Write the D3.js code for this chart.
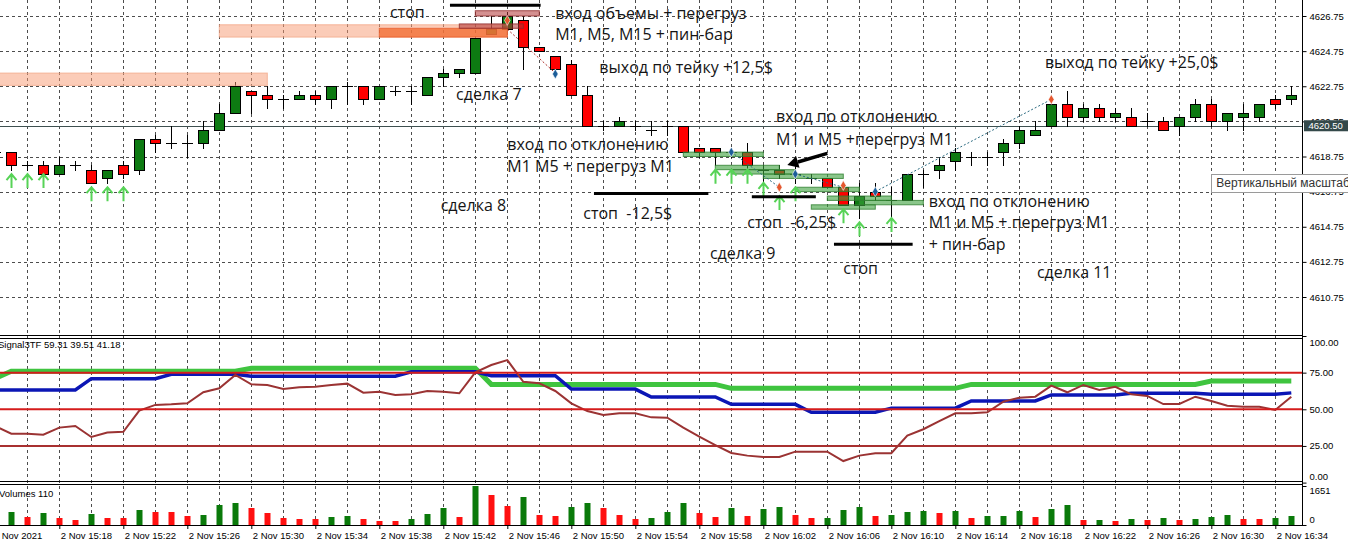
<!DOCTYPE html>
<html>
<head>
<meta charset="utf-8">
<script src="https://cdn.jsdelivr.net/npm/d3@7"></script>
<style>
body { margin: 0; background: #fff; }
svg { display: block; font-family: "Liberation Sans", Arial, sans-serif; }
.note { font-family: "Open Sans", sans-serif; font-size: 16px; fill: #151515; white-space: pre; }
</style>
</head>
<body>
<script>
// M1 bars, 2 Nov 2021
const times = [
  "15:14","15:15","15:16","15:17","15:18","15:19","15:20","15:21","15:22","15:23",
  "15:24","15:25","15:26","15:27","15:28","15:29","15:30","15:31","15:32","15:33",
  "15:34","15:35","15:36","15:37","15:38","15:39","15:40","15:41","15:42","15:43",
  "15:44","15:45","15:46","15:47","15:48","15:49","15:50","15:51","15:52","15:53",
  "15:54","15:55","15:56","15:57","15:58","15:59","16:00","16:01","16:02","16:03",
  "16:04","16:05","16:06","16:07","16:08","16:09","16:10","16:11","16:12","16:13",
  "16:14","16:15","16:16","16:17","16:18","16:19","16:20","16:21","16:22","16:23",
  "16:24","16:25","16:26","16:27","16:28","16:29","16:30","16:31","16:32","16:33",
  "16:34","16:35"]

const opens = [
  4619.0,4619.0,4618.25,4618.25,4617.75,4618.25,4618.0,4617.5,4618.25,4618.0,
  4619.75,4619.5,4619.5,4619.5,4620.25,4621.25,4622.5,4622.25,4622.0,4622.0,
  4622.25,4622.0,4622.75,4622.75,4622.0,4622.5,4622.5,4622.25,4623.25,4623.5,
  4623.5,4625.75,4626.0,4626.5,4625.0,4624.5,4624.0,4622.25,4620.5,4620.5,
  4620.5,4620.25,4620.5,4620.5,4619.25,4619.25,4619.0,4619.0,4618.0,4618.0,
  4617.75,4617.5,4617.5,4617.0,4616.0,4616.75,4616.25,4616.25,4617.75,4618.0,
  4618.5,4618.75,4618.75,4619.0,4619.5,4620.0,4620.5,4621.75,4621.0,4621.5,
  4621.0,4621.0,4620.75,4620.75,4620.5,4621.0,4621.75,4620.75,4621.0,4621.0,
  4622.0,4622.0]
const highs = [
  4619.25,4619.0,4618.5,4618.5,4618.75,4618.5,4618.25,4618.0,4618.5,4619.75,
  4620.0,4620.5,4620.0,4620.75,4621.75,4623.0,4622.5,4622.75,4622.25,4622.5,
  4622.5,4622.75,4623.0,4622.75,4622.75,4622.75,4622.75,4623.25,4623.75,4623.75,
  4625.5,4626.75,4627.0,4626.75,4625.0,4624.5,4624.25,4622.75,4620.75,4621.0,
  4620.75,4620.75,4620.75,4620.5,4619.25,4619.25,4619.25,4619.5,4618.25,4618.25,
  4618.25,4617.75,4617.5,4617.25,4617.25,4617.25,4617.0,4617.75,4618.0,4618.75,
  4619.25,4619.0,4619.0,4619.75,4620.5,4620.75,4621.75,4622.5,4621.75,4621.75,
  4621.5,4621.5,4621.25,4621.0,4621.0,4622.0,4622.0,4621.25,4621.75,4621.75,
  4622.25,4622.75]
const lows = [
  4618.75,4618.0,4618.0,4617.75,4617.75,4618.0,4617.25,4617.25,4617.5,4617.75,
  4619.0,4619.25,4618.75,4619.25,4620.25,4621.25,4621.25,4621.5,4621.5,4622.0,
  4621.75,4621.5,4621.75,4621.75,4622.0,4622.25,4621.75,4622.25,4622.75,4623.25,
  4623.5,4625.75,4625.75,4623.75,4624.75,4623.75,4622.25,4620.5,4620.25,4620.5,
  4620.25,4620.0,4620.0,4619.0,4618.75,4618.25,4618.75,4617.5,4617.25,4617.5,
  4617.25,4617.25,4617.0,4616.0,4615.25,4616.25,4615.25,4616.25,4617.0,4617.5,
  4618.0,4618.25,4618.25,4618.25,4619.25,4620.0,4620.5,4620.5,4620.75,4620.75,
  4620.75,4620.5,4620.5,4620.25,4620.0,4620.75,4620.5,4620.25,4620.25,4620.75,
  4621.5,4621.75]
const closes = [
  4619.0,4618.25,4618.25,4617.75,4618.25,4618.25,4617.25,4618.0,4617.75,4619.75,
  4619.5,4619.5,4619.5,4620.25,4621.25,4622.75,4622.25,4622.0,4622.0,4622.25,
  4622.0,4622.75,4622.75,4622.0,4622.75,4622.5,4622.5,4623.25,4623.5,4623.75,
  4625.5,4626.0,4626.75,4625.0,4624.75,4623.75,4622.25,4620.5,4620.5,4620.75,
  4620.5,4620.25,4620.5,4619.0,4619.0,4619.0,4619.0,4618.25,4618.0,4617.75,
  4617.75,4617.5,4617.0,4616.0,4616.5,4616.5,4616.25,4617.75,4617.75,4618.25,
  4619.0,4618.75,4618.75,4619.5,4620.25,4620.25,4621.75,4621.0,4621.5,4621.0,
  4621.25,4620.5,4620.75,4620.25,4621.0,4621.75,4620.75,4621.25,4621.25,4621.75,
  4621.75,4622.25]
const volumes = [
  400,563,339,508,296,212,466,296,296,635,
  550,550,381,423,847,931,720,508,296,254,
  254,339,381,254,169,169,254,466,720,339,
  1651,1257,804,1185,423,381,762,931,720,423,
  254,296,550,931,508,339,720,381,677,762,
  423,280,296,635,762,400,440,550,593,508,
  593,296,370,390,593,339,677,847,200,215,
  169,254,212,296,212,254,339,423,254,240,
  296,381]

// Signal3TF: M15 (green), M5 (blue), M1 (brown)
const sigM15 = [
  71,
  76,76,76,76,76,76,76,76,76,76,76,76,76,76,76,
  78,78,78,78,78,78,78,78,78,78,78,78,78,78,78,
  67,67,67,67,67,67,67,67,67,67,67,67,67,67,67,
  64.3,64.3,64.3,64.3,64.3,64.3,64.3,64.3,64.3,64.3,64.3,64.3,64.3,64.3,64.3,
  67,67,67,67,67,67,67,67,67,67,67,67,67,67,67,
  69.3,69.3,69.3,69.3,69.3,69.3]
const sigM5 = [
  63.2,
  63.2,63.2,63.2,63.2,63.2, 70.9,70.9,70.9,70.9,70.9, 73.9,73.9,73.9,73.9,73.9,
  72.6,72.6,72.6,72.6,72.6, 72.6,72.6,72.6,72.6,72.6, 75.6,75.6,75.6,75.6,75.6,
  72.9,72.9,72.9,72.9,72.9, 63.8,63.8,63.8,63.8,63.8, 58.4,58.4,58.4,58.4,58.4,
  53.4,53.4,53.4,53.4,53.4, 48.0,48.0,48.0,48.0,48.0, 50.8,50.8,50.8,50.8,50.8,
  55.7,55.7,55.7,55.7,55.7, 59.8,59.8,59.8,59.8,59.8, 60.9,60.9,60.9,60.9,60.9,
  60.2,60.2,60.2,60.2,60.2, 61.2]
const sigM1 = [
  38.5,33.4,33.4,32.7,37.5,38.6,31.1,34.1,34.7,49.1,
  53.0,53.4,54.1,61.6,64.3,73.4,67.0,66.6,63.8,65.0,
  65.4,66.6,67.5,61.3,62.0,59.8,60.2,62.5,62.0,60.9,
  75.2,80.2,83.6,68.8,67.7,62.5,54.1,48.8,46.1,47.3,
  47.3,44.5,44.3,37.5,31.3,25.6,20.2,18.4,17.5,17.5,
  21.1,21.1,21.1,14.7,18.4,20.0,20.0,32.0,36.4,42.0,
  47.3,47.3,48.0,55.2,57.9,58.6,66.1,61.6,66.6,63.2,
  65.4,60.2,59.1,53.6,53.6,58.6,55.7,52.5,51.8,51.8,
  49.5,58.6]
const sigLevels = [75, 50, 25]

const priceTicks = [4610.75, 4612.75, 4614.75, 4616.75, 4618.75, 4620.75, 4622.75, 4624.75, 4626.75]
const indTicks = [100, 75, 50, 25, 0]
const volTicks = [1651, 0]
const lastPrice = 4620.50

// chart markup: zones [from, to, top, bottom, kind]
const zones = [
  ["15:14", "15:31", 4623.5, 4622.8, "pale"],
  ["15:28", "15:46", 4626.25, 4625.55, "pale"],
  ["15:38", "15:46", 4626.05, 4625.55, "orange"],
  ["15:43", "15:47", 4626.3, 4626.05, "dark"],
  ["15:44", "15:48", 4627.05, 4626.75, "dark"],
  ["15:57", "16:02", 4619.0, 4618.75, "green"],
  ["15:59", "16:03", 4618.25, 4618.0, "green"],
  ["16:00", "16:04", 4618.0, 4617.75, "green"],
  ["16:02", "16:07", 4617.75, 4617.5, "green"],
  ["16:04", "16:08", 4617.0, 4616.75, "green"],
  ["16:06", "16:10", 4616.5, 4616.25, "green"],
  ["16:05", "16:09", 4616.0, 4615.75, "green"],
  ["16:08", "16:12", 4616.25, 4616.0, "green"]
]
const upArrows = [
  ["15:15", 4617.75], ["15:16", 4617.75], ["15:17", 4617.75],
  ["15:20", 4617.0], ["15:21", 4617.0], ["15:22", 4617.0],
  ["15:59", 4618.0], ["16:00", 4618.0], ["16:01", 4618.0], ["16:02", 4617.25],
  ["16:03", 4616.5], ["16:04", 4617.0], ["16:07", 4615.75], ["16:08", 4615.0], ["16:10", 4615.25]
]
const deals = [
  ["15:46", 4626.5, "sell"], ["15:49", 4623.45, "buy"], ["16:00", 4619.0, "buy"],
  ["16:03", 4617.0, "sell"], ["16:04", 4617.75, "buy"], ["16:07", 4617.1, "sell"],
  ["16:09", 4616.75, "buy"], ["16:20", 4622.0, "sell"]
]
const trades = [
  ["15:46", 4626.0, "15:49", 4623.5, "sell"],
  ["16:00", 4619.0, "16:03", 4617.0, "buy"],
  ["16:04", 4617.75, "16:07", 4617.0, "buy"],
  ["16:09", 4616.75, "16:20", 4622.0, "buy"]
]
const stops = [
  ["15:42:25", "15:48:05", 4627.36],
  ["15:51:25", "15:58:34", 4616.65],
  ["16:01:17", "16:05:17", 4616.46],
  ["16:06:25", "16:11:20", 4613.75]
]
const pointer = ["16:06", 4618.93, "16:03:30", 4618.26]
const notes = [
  ["стоп", "15:38:40", 4626.62],
  ["вход объемы + перегруз", "15:49", 4626.58],
  ["M1, M5, M15 + пин-бар", "15:49", 4625.38],
  ["выход по тейку +12,5$", "15:51:45", 4623.49],
  ["сделка 7", "15:42:48", 4621.97],
  ["вход по отклонению", "15:46", 4619.12],
  ["M1 M5 + перегруз M1", "15:46", 4617.88],
  ["сделка 8", "15:41:50", 4615.65],
  ["стоп  -12,5$", "15:50:45", 4615.17],
  ["вход по отклонению", "16:02:48", 4620.73],
  ["M1 и M5 +перегруз M1", "16:02:48", 4619.40],
  ["стоп  -6,25$", "16:01", 4614.66],
  ["сделка 9", "15:58:40", 4612.90],
  ["стоп", "16:07", 4612.06],
  ["вход по отклонению", "16:12:20", 4615.87],
  ["M1 и M5 + перегруз M1", "16:12:20", 4614.68],
  ["+ пин-бар", "16:12:20", 4613.42],
  ["сделка 11", "16:19:06", 4611.83],
  ["выход по тейку +25,0$", "16:19:36", 4623.77]
]

const W = 1348, H = 548
const axisX = 1302.5
const mainBottom = 336

const parseTime = s => d3.timeParse(s.length > 5 ? "%H:%M:%S" : "%H:%M")(s)
const fmtTime = d3.timeFormat("%H:%M")

const x = d3.scaleTime().domain([parseTime("15:18"), parseTime("16:34")]).range([59.3, 1275.3])
const yPrice = d3.scaleLinear().domain([4610.75, 4626.75]).range([297, 16])
const yInd = d3.scaleLinear().domain([0, 100]).range([482.6, 336])
const yVol = d3.scaleLinear().domain([0, 1651]).range([525, 486])

const bars = times.map((t, i) => ({
  t: parseTime(t), o: opens[i], h: highs[i], l: lows[i], c: closes[i],
  v: volumes[i], up: i > 0 && volumes[i] > volumes[i - 1],
  m15: sigM15[i], m5: sigM5[i], m1: sigM1[i]
}))
const px = d => Math.round(x(d.t))
const crisp = v => Math.round(v) + 0.5

const svg = d3.select("body").append("svg")
  .attr("width", W)
  .attr("height", H)

const defs = svg.append("defs")
defs.append("clipPath").attr("id", "mainclip")
  .append("rect").attr("x", 0).attr("y", 0).attr("width", axisX).attr("height", mainBottom)
defs.append("clipPath").attr("id", "lowclip")
  .append("rect").attr("x", 0).attr("y", 338).attr("width", axisX).attr("height", 190)

// grid
const gridTimes = times.filter(t => +t.slice(3) % 2 == 0)
const axisTimes = times.filter(t => +t.slice(3) % 4 == 2)

svg.append("g").selectAll("line")
  .data(gridTimes).enter().append("line")
  .attr("x1", d => crisp(x(parseTime(d))))
  .attr("x2", d => crisp(x(parseTime(d))))
  .attr("y1", 0).attr("y2", 525)
  .attr("stroke", "#4d4d4d")
  .attr("stroke-dasharray", "3,3")

svg.append("g").selectAll("line")
  .data(priceTicks).enter().append("line")
  .attr("x1", 0).attr("x2", axisX)
  .attr("y1", d => crisp(yPrice(d)))
  .attr("y2", d => crisp(yPrice(d)))
  .attr("stroke", "#4d4d4d")
  .attr("stroke-dasharray", "3,3")

const chart = svg.append("g").attr("clip-path", "url(#mainclip)")

// last price line
chart.append("line")
  .attr("x1", 0).attr("x2", axisX)
  .attr("y1", crisp(yPrice(lastPrice))).attr("y2", crisp(yPrice(lastPrice)))
  .attr("stroke", "#3e5050")

// candles
chart.selectAll(".wick").data(bars).enter().append("line")
  .attr("class", "wick")
  .attr("x1", d => px(d) + 0.5).attr("x2", d => px(d) + 0.5)
  .attr("y1", d => Math.round(yPrice(d.h)))
  .attr("y2", d => Math.round(yPrice(d.l)) + 1)
  .attr("stroke", "#000")

chart.selectAll(".body").data(bars.filter(d => d.o != d.c)).enter().append("rect")
  .attr("class", "body")
  .attr("x", d => px(d) - 4.5)
  .attr("width", 10)
  .attr("y", d => crisp(yPrice(Math.max(d.o, d.c))))
  .attr("height", d => Math.max(1, Math.round(yPrice(Math.min(d.o, d.c))) - Math.round(yPrice(Math.max(d.o, d.c)))))
  .attr("fill", d => d.c > d.o ? "#0d7a12" : "#ff0000")
  .attr("stroke", "#000")

chart.selectAll(".doji").data(bars.filter(d => d.o == d.c)).enter().append("line")
  .attr("class", "doji")
  .attr("x1", d => px(d) - 5).attr("x2", d => px(d) + 6)
  .attr("y1", d => crisp(yPrice(d.o))).attr("y2", d => crisp(yPrice(d.o)))
  .attr("stroke", "#000")

// zones
const zoneStyle = {
  pale: ["#f79a72", 0.5, "#f2a98a"],
  orange: ["#f26a2e", 0.75, "#e86030"],
  dark: ["#b03535", 0.55, "#8e2a2a"],
  green: ["#3ca03c", 0.6, "#2f7f2f"]
}
chart.selectAll(".zone").data(zones).enter().append("rect")
  .attr("class", "zone")
  .attr("x", d => x(parseTime(d[0])))
  .attr("width", d => x(parseTime(d[1])) - x(parseTime(d[0])))
  .attr("y", d => yPrice(d[2]))
  .attr("height", d => yPrice(d[3]) - yPrice(d[2]))
  .attr("fill", d => zoneStyle[d[4]][0])
  .attr("fill-opacity", d => zoneStyle[d[4]][1])
  .attr("stroke", d => zoneStyle[d[4]][2])
  .attr("stroke-opacity", 0.8)

// trade lines
chart.selectAll(".trade").data(trades).enter().append("line")
  .attr("x1", d => x(parseTime(d[0]))).attr("y1", d => yPrice(d[1]))
  .attr("x2", d => x(parseTime(d[2]))).attr("y2", d => yPrice(d[3]))
  .attr("stroke", d => d[4] == "sell" ? "#b0302a" : "#2a6a80")
  .attr("stroke-dasharray", "2,2")

// deal marks
chart.selectAll(".deal").data(deals).enter().append("path")
  .attr("d", d3.symbol(d3.symbolDiamond, 28))
  .attr("transform", d => "translate(" + x(parseTime(d[0])) + "," + yPrice(d[1]) + ")")
  .attr("fill", d => d[2] == "sell" ? "#e4572e" : "#1c5d99")
  .attr("stroke", "#fff")
  .attr("stroke-width", 0.6)

// green up arrows
chart.selectAll(".arrow").data(upArrows).enter().append("path")
  .attr("d", d => {
    const ax = px({t: parseTime(d[0])}) + 0.5, ay = yPrice(d[1])
    return "M" + ax + "," + (ay + 14) + "L" + ax + "," + ay +
      "M" + (ax - 5) + "," + (ay + 6) + "L" + ax + "," + ay + "L" + (ax + 5) + "," + (ay + 6)
  })
  .attr("fill", "none")
  .attr("stroke", "#57d357")
  .attr("stroke-width", 2)

// stop levels
chart.selectAll(".stop").data(stops).enter().append("line")
  .attr("x1", d => x(parseTime(d[0]))).attr("x2", d => x(parseTime(d[1])))
  .attr("y1", d => yPrice(d[2])).attr("y2", d => yPrice(d[2]))
  .attr("stroke", "#000")
  .attr("stroke-width", 3)

// hand drawn arrow
const ax1 = x(parseTime(pointer[0])), ay1 = yPrice(pointer[1])
const ax2 = x(parseTime(pointer[2])), ay2 = yPrice(pointer[3])
const ang = Math.atan2(ay2 - ay1, ax2 - ax1)
const hx = ax2 - 11 * Math.cos(ang), hy = ay2 - 11 * Math.sin(ang)
chart.append("line")
  .attr("x1", ax1).attr("y1", ay1).attr("x2", hx).attr("y2", hy)
  .attr("stroke", "#000").attr("stroke-width", 3.5)
chart.append("path")
  .attr("d", "M" + ax2 + "," + ay2 +
    "L" + (hx + 6 * Math.sin(ang)) + "," + (hy - 6 * Math.cos(ang)) +
    "L" + (hx - 6 * Math.sin(ang)) + "," + (hy + 6 * Math.cos(ang)) + "Z")
  .attr("fill", "#000")

chart.selectAll(".note").data(notes).enter().append("text")
  .attr("class", "note")
  .attr("x", d => x(parseTime(d[1])))
  .attr("y", d => yPrice(d[2]))
  .text(d => d[0])

// indicator window
const low = svg.append("g").attr("clip-path", "url(#lowclip)")

const line = key => d3.line().x(d => x(d.t)).y(d => yInd(d[key]))

low.append("path").attr("d", line("m15")(bars))
  .attr("fill", "none").attr("stroke", "#3fc43f").attr("stroke-width", 5)
low.append("path").attr("d", line("m5")(bars))
  .attr("fill", "none").attr("stroke", "#0b16b5").attr("stroke-width", 3.5)
low.append("path").attr("d", line("m1")(bars))
  .attr("fill", "none").attr("stroke", "#9b3333").attr("stroke-width", 2)

low.selectAll(".level").data(sigLevels).enter().append("line")
  .attr("x1", 0).attr("x2", axisX)
  .attr("y1", d => yInd(d)).attr("y2", d => yInd(d))
  .attr("stroke", d => d == 25 ? "#a83030" : "#d51c1c")
  .attr("stroke-width", 2)

// volumes
low.selectAll(".vol").data(bars).enter().append("rect")
  .attr("x", d => px(d) - 2.5)
  .attr("width", 6)
  .attr("y", d => Math.round(yVol(d.v)))
  .attr("height", d => 525 - Math.round(yVol(d.v)))
  .attr("fill", d => d.up ? "#0a7a0a" : "#ff1010")

// window borders
const frame = svg.append("g").attr("stroke", "#000")
;[335.5, 338.5, 481.5, 484.5, 525.5].forEach(yy => {
  frame.append("line").attr("x1", 0).attr("x2", axisX).attr("y1", yy).attr("y2", yy)
})
frame.append("line").attr("x1", axisX).attr("x2", axisX).attr("y1", 0).attr("y2", 526)

svg.append("text").attr("x", -2).attr("y", 347.5)
  .attr("font-size", 9.5).text("Signal3TF 59.31 39.51 41.18")
svg.append("text").attr("x", -1).attr("y", 497)
  .attr("font-size", 9.5).text("Volumes 110")

// axes
function styleAxis(g) {
  g.attr("font-size", 9.5).attr("font-family", "Liberation Sans, Arial, sans-serif")
  g.select(".domain").remove()
}

svg.append("g")
  .attr("transform", "translate(" + axisX + ",0)")
  .call(d3.axisRight(yPrice).tickValues(priceTicks).tickSize(4).tickFormat(d3.format(".2f")))
  .call(styleAxis)

svg.append("g")
  .attr("transform", "translate(" + axisX + ",0)")
  .call(d3.axisRight(yInd).tickValues(indTicks).tickSize(4).tickFormat(d3.format(".2f")))
  .call(styleAxis)
  .selectAll("text")
  .attr("transform", d => d == 100 ? "translate(0,6)" : d == 0 ? "translate(0,-6)" : null)

svg.append("g")
  .attr("transform", "translate(" + axisX + ",0)")
  .call(d3.axisRight(yVol).tickValues(volTicks).tickSize(4).tickFormat(d3.format("d")))
  .call(styleAxis)
  .selectAll("text")
  .attr("transform", d => d == 0 ? "translate(0,-6)" : "translate(0,4)")

svg.append("g")
  .attr("transform", "translate(0,525)")
  .call(d3.axisBottom(x).tickValues(axisTimes.map(parseTime)).tickSize(4)
    .tickFormat((d, i) => i == 0 ? "2 Nov 2021" : "2 Nov " + fmtTime(d)))
  .call(styleAxis)
  .selectAll("text")
  .attr("text-anchor", "start")
  .attr("x", (d, i) => i == 0 ? -2 : 1)

// last price tag
const ly = yPrice(lastPrice)
svg.append("rect")
  .attr("x", axisX + 1.5).attr("y", ly - 5.5)
  .attr("width", W - axisX).attr("height", 11)
  .attr("fill", "#34494a")
svg.append("text")
  .attr("x", axisX + 6).attr("y", ly + 3.5)
  .attr("font-size", 9.5).attr("fill", "#fff")
  .text(d3.format(".2f")(lastPrice))

// tooltip of the price scale
const tx = x(parseTime("16:30")), ty = yPrice(4617.75)
svg.append("rect")
  .attr("x", crisp(tx)).attr("y", crisp(ty))
  .attr("width", 150).attr("height", Math.round(yPrice(4616.75) - ty))
  .attr("fill", "#fff").attr("stroke", "#9a9a9a")
svg.append("text")
  .attr("x", tx + 5).attr("y", ty + 13)
  .attr("font-size", 12).attr("fill", "#333")
  .text("Вертикальный масштаб")
</script>
</body>
</html>
